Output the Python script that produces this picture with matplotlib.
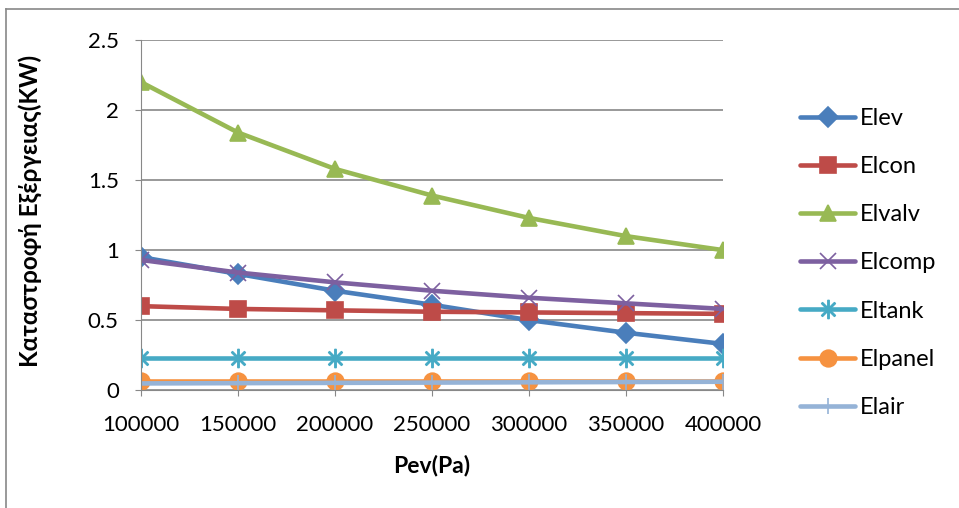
import matplotlib.pyplot as plt
from matplotlib.lines import Line2D

plt.rcParams['font.family'] = ['Lato', 'DejaVu Sans']

# data
pev = [100000, 150000, 200000, 250000, 300000, 350000, 400000]
elev = [0.95, 0.83, 0.71, 0.61, 0.50, 0.41, 0.33]
elcon = [0.60, 0.58, 0.57, 0.56, 0.555, 0.55, 0.545]
elvalv = [2.20, 1.84, 1.58, 1.39, 1.23, 1.10, 1.00]
elcomp = [0.93, 0.84, 0.77, 0.71, 0.66, 0.62, 0.58]
eltank = [0.23, 0.23, 0.23, 0.23, 0.23, 0.23, 0.23]
elpanel = [0.065, 0.065, 0.065, 0.065, 0.065, 0.065, 0.065]
elair = [0.048, 0.05, 0.052, 0.054, 0.056, 0.058, 0.06]

series = [
    ('Elev', elev, '#4A7EBB', 'D', 10),
    ('Elcon', elcon, '#BE4B48', 's', 12),
    ('Elvalv', elvalv, '#98B954', '^', 12),
    ('Elcomp', elcomp, '#7D60A0', 'x', 11),
    ('Eltank', eltank, '#46AAC5', '$\u2733$', 13),
    ('Elpanel', elpanel, '#F69240', 'o', 12),
    ('Elair', elair, '#95B3D7', '|', 11),
]

fig = plt.figure(figsize=(9.59, 5.08), dpi=100)
ax = fig.add_axes([0.147, 0.232, 0.607, 0.689])

for name, vals, col, mk, ms in series:
    ax.plot(pev, vals, color=col, lw=3.3, marker=mk, markersize=ms,
            markeredgecolor=col, markerfacecolor=col, mew=1.2, label=name,
            solid_capstyle='round')

ax.set_xlim(100000, 400000)
ax.set_ylim(0, 2.5)
ax.set_xticks(pev)
ax.set_xticklabels([str(p) for p in pev])
ax.set_yticks([0, 0.5, 1, 1.5, 2, 2.5])
ax.set_yticklabels(['0', '0.5', '1', '1.5', '2', '2.5'])
ax.yaxis.grid(True, color='#888888', lw=1.2)
ax.set_axisbelow(True)
for s in ['top', 'right']:
    ax.spines[s].set_visible(False)
ax.spines['left'].set_color('#888888')
ax.spines['bottom'].set_color('#888888')
ax.tick_params(axis='both', colors='#888888', labelcolor='black',
               labelsize=16, length=4, direction='out')
ax.tick_params(axis='x', pad=14)
ax.tick_params(axis='y', pad=12)
for lbl in ax.get_xticklabels() + ax.get_yticklabels():
    lbl.set_clip_on(False)

fig.text(432 / 959, 1 - 465 / 508, 'Pev(Pa)', fontsize=16.5,
         fontweight='bold', ha='center', va='center')
fig.text(30 / 959, 1 - 211 / 508, 'Καταστροφή Εξέργειας(KW)', fontsize=17.5,
         fontweight='bold', ha='center', va='center', rotation=90)

fig.legend(*ax.get_legend_handles_labels(), loc='upper left',
           bbox_to_anchor=(800 / 959, 1 - 108 / 508), frameon=False,
           fontsize=17, handlelength=2.35, handletextpad=0.2,
           labelspacing=1.15, borderpad=0, borderaxespad=0)

# outer chart frame
fig.add_artist(Line2D([0.006, 0.006], [0, 0.982], color='#888888', lw=1.2))
fig.add_artist(Line2D([0.006, 1.0], [0.982, 0.982], color='#888888', lw=1.2))

fig.savefig('out.png', dpi=100)
